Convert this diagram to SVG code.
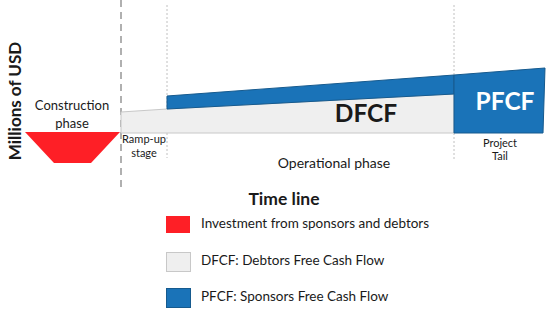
<svg xmlns="http://www.w3.org/2000/svg" width="550" height="316" viewBox="0 0 550 316">
<style>
text{font-family:Lato,"Open Sans","Liberation Sans",sans-serif;fill:#1a1a1a}
.lbl{font-size:13.5px}
.sm{font-size:11px}
.b{font-weight:bold}
.blue{fill:#1a73b8;stroke:#165a8e;stroke-width:1}
.gray{fill:#efefef;stroke:#c8c8c8;stroke-width:1}
</style>
<rect width="550" height="316" fill="#ffffff"/>
<g id="axes">
<line x1="121" y1="0" x2="121" y2="188" stroke="#b0b0b0" stroke-width="2" stroke-dasharray="7,5"/>
<line x1="167" y1="5" x2="167" y2="158" stroke="#c0c0c0" stroke-width="1" stroke-dasharray="2,2"/>
<line x1="454" y1="5" x2="454" y2="160" stroke="#c0c0c0" stroke-width="1" stroke-dasharray="2,2"/>
</g>
<g id="construction">
<polygon points="25,132 120,132 91,163 54,163" fill="#fe1f26"/>
<text x="72" y="110" text-anchor="middle" font-size="13">Construction</text>
<text x="72" y="128" text-anchor="middle" font-size="13">phase</text>
</g>
<g id="dfcf">
<polygon class="gray" points="121,112 167,109 454,94 454,133 121,133"/>
<text x="366" y="122" text-anchor="middle" class="b" font-size="24.5">DFCF</text>
</g>
<g id="blue-band">
<polygon class="blue" points="167,96 454,75 454,94 167,109"/>
</g>
<g id="pfcf">
<polygon class="blue" points="454,75 545,68 543,133 454,133"/>
<text x="505" y="110" text-anchor="middle" class="b" font-size="24.5" style="fill:#ffffff">PFCF</text>
</g>
<g id="labels">
<text class="sm" x="144" y="143" text-anchor="middle">Ramp-up</text>
<text class="sm" x="144" y="157" text-anchor="middle">stage</text>
<text x="334" y="168" text-anchor="middle" font-size="14">Operational phase</text>
<text class="sm" x="500" y="147" text-anchor="middle">Project</text>
<text class="sm" x="500" y="160" text-anchor="middle">Tail</text>
<text class="b" font-size="17" transform="translate(21,101) rotate(-90)" text-anchor="middle">Millions of USD</text>
</g>
<g id="legend">
<text class="b" font-size="17.5" x="284" y="205" text-anchor="middle">Time line</text>
<rect x="166" y="216" width="24" height="17" fill="#fe1f26"/>
<text class="lbl" x="201" y="228">Investment from sponsors and debtors</text>
<rect class="gray" x="166.5" y="252.5" width="24" height="19" stroke-width="1.5"/>
<text class="lbl" x="201" y="265">DFCF: Debtors Free Cash Flow</text>
<rect class="blue" x="166.5" y="288.5" width="24" height="19" stroke-width="1.5"/>
<text class="lbl" x="201" y="301">PFCF: Sponsors Free Cash Flow</text>
</g>
</svg>
